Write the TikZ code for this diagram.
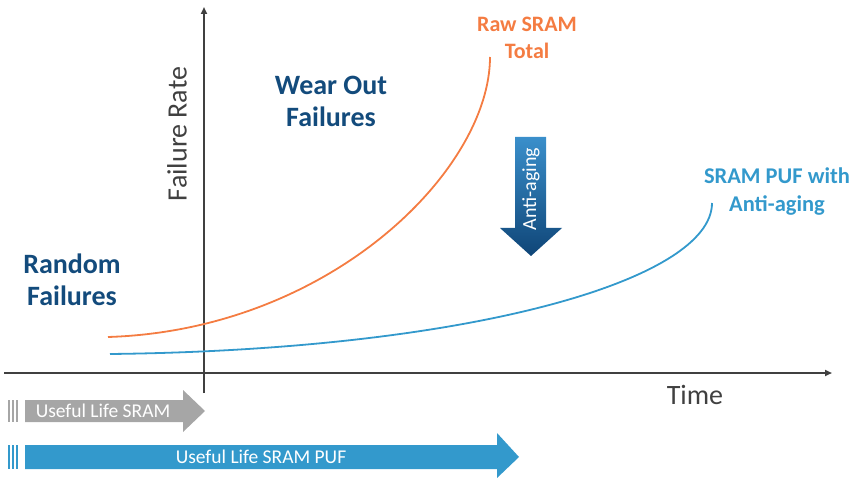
\documentclass[tikz,border=0pt]{standalone}
\usepackage{fontspec}
\setmainfont{Carlito}
\usetikzlibrary{arrows.meta}
\definecolor{axisgray}{HTML}{404040}
\definecolor{navy}{HTML}{134B7C}
\definecolor{rawor}{HTML}{F47C42}
\definecolor{pufblue}{HTML}{3399CC}
\definecolor{lifegray}{HTML}{A6A6A6}
\definecolor{shadetop}{HTML}{3A8FCB}
\definecolor{shadebot}{HTML}{0F4577}
\tikzset{
  axisline/.style={draw=axisgray, line width=1.8pt, -{Triangle[length=7pt,width=6pt]}},
  axislabel/.style={text=axisgray, font=\fontsize{28}{32}\selectfont, inner sep=0pt},
  bigtitle/.style={text=navy, font=\bfseries\fontsize{28}{32}\selectfont, align=center, inner sep=0pt},
  curvetitle/.style={font=\bfseries\fontsize{22}{27.5}\selectfont, align=center, inner sep=0pt},
  curve/.style={line width=1.8pt},
  lifetext/.style={text=white, font=\fontsize{19.5}{22}\selectfont, inner sep=0pt},
}
\begin{document}
\begin{tikzpicture}[x=1pt,y=-1pt]
\useasboundingbox (0,0) rectangle (851,478);
% axes
\coordinate (xs) at (4,373);
\coordinate (xe) at (832,373);
\coordinate (ys) at (204,393);
\coordinate (ye) at (204,7);
\draw[axisline] (xs) -- (xe);
\draw[axisline] (ys) -- (ye);
\node[axislabel, rotate=90] (frate) at (177,134) {Failure Rate};
\node[axislabel] (time) at (695,395) {Time};
% curves
\coordinate (os) at (108,337);
\coordinate (oe) at (490,57);
\draw[curve, rawor] (os) .. controls (330,330) and (490,170) .. (oe);
\coordinate (bs) at (110,354);
\coordinate (be) at (712,203);
\draw[curve, pufblue] (bs) .. controls (470,350) and (712,280) .. (be);
% titles
\node[bigtitle] (random) at (72,280) {Random\\Failures};
\node[bigtitle] (wear) at (331,101) {Wear Out\\Failures};
\node[curvetitle, text=rawor] (raw) at (527,38) {Raw SRAM\\Total};
\node[curvetitle, text=pufblue, font=\bfseries\fontsize{22.5}{28}\selectfont] (puf) at (777,192) {SRAM PUF with\\Anti-aging};
% anti-aging arrow
\shade[top color=shadetop, bottom color=shadebot]
  (515,137) -- (546,137) -- (546,228) -- (562,228) -- (531,256) -- (500,228) -- (515,228) -- cycle;
\node[text=white, rotate=90, font=\fontsize{20}{22}\selectfont, inner sep=0pt] (anti) at (531,189) {Anti-aging};
% useful life arrows
\foreach \xx in {8.5,12.5,16.5} {
  \fill[lifegray] (\xx-1,400) rectangle (\xx+1,422);
  \fill[pufblue] (\xx-1,445) rectangle (\xx+1,469);
}
\fill[lifegray] (25,400) -- (183,400) -- (183,390) -- (205,411) -- (183,432) -- (183,422) -- (25,422) -- cycle;
\node[lifetext] (life1) at (103,411) {Useful Life SRAM};
\fill[pufblue] (25,445) -- (497,445) -- (497,433) -- (519,457) -- (497,478) -- (497,469) -- (25,469) -- cycle;
\node[lifetext] (life2) at (261,457) {Useful Life SRAM PUF};
\end{tikzpicture}
\end{document}
